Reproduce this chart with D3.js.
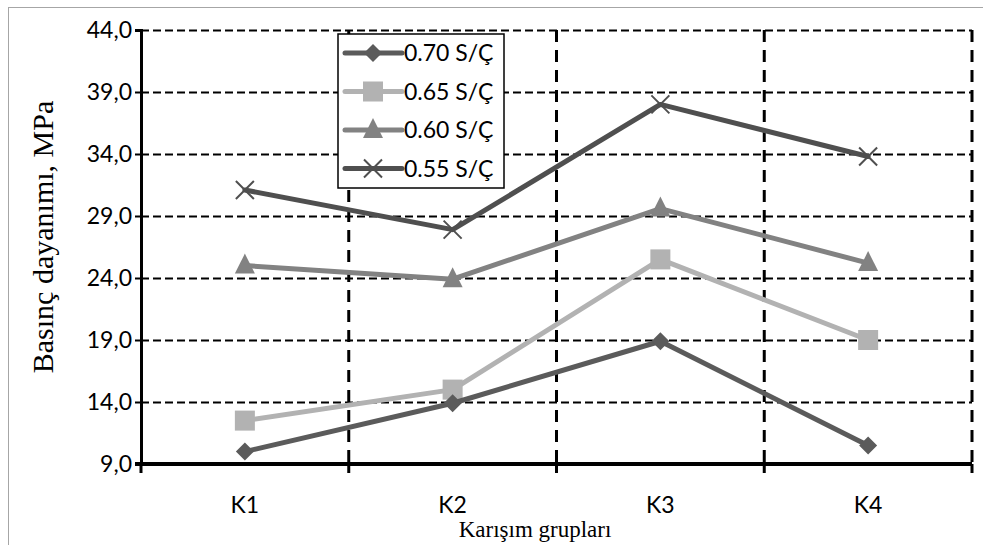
<!DOCTYPE html>
<html>
<head>
<meta charset="utf-8">
<script src="https://cdn.jsdelivr.net/npm/d3@7"></script>
<style>
  html, body { margin: 0; padding: 0; background: #fff; }
  svg { display: block; }
</style>
</head>
<body>
<svg id="chart" width="983" height="545"></svg>
<script>
// Mix groups on the x axis
const categories = ["K1", "K2", "K3", "K4"];
// Water/cement ratio series (legend labels)
const seriesNames = ["0.70 S/Ç", "0.65 S/Ç", "0.60 S/Ç", "0.55 S/Ç"];
// Compressive strength, MPa, per mix group
const s070 = [10.0, 13.9, 18.9, 10.5];
const s065 = [12.5, 15.0, 25.5, 19.0];
const s060 = [25.0, 23.9, 29.6, 25.2];
const s055 = [31.1, 27.9, 38.0, 33.8];
// Y axis ticks
const yTicks = [9, 14, 19, 24, 29, 34, 39, 44];

const seriesValues = [s070, s065, s060, s055];
const seriesColors = ["#5b5b5b", "#b2b2b2", "#828282", "#4f4f4f"];
const seriesMarkers = ["diamond", "square", "triangle", "cross"];

const svg = d3.select("#chart");
const L = 141, R = 972, T = 30, B = 464;

// outer chart-area frame
svg.append("rect")
  .attr("x", 8.5).attr("y", 7.5).attr("width", 1000).attr("height", 600)
  .attr("fill", "none").attr("stroke", "#a6a6a6").attr("stroke-width", 1);

const x = d3.scaleBand().domain(categories).range([L, R]).padding(0);
const y = d3.scaleLinear().domain([9, 44]).range([B, T]);
const cx = c => x(c) + x.bandwidth() / 2;

const sansFont = "Lato, 'Open Sans', sans-serif";
const serifFont = "'Liberation Serif', 'DejaVu Serif', serif";

// horizontal dashed gridlines
svg.append("g").selectAll("line")
  .data(yTicks.filter(t => t > 9))
  .join("line")
  .attr("x1", L).attr("x2", R)
  .attr("y1", d => Math.round(y(d)) + 0.5).attr("y2", d => Math.round(y(d)) + 0.5)
  .attr("stroke", "#000").attr("stroke-width", 2)
  .attr("stroke-dasharray", "8,4");

// vertical dashed gridlines at category boundaries
const bounds = categories.map(c => x(c) + x.bandwidth());
svg.append("g").selectAll("line")
  .data(bounds)
  .join("line")
  .attr("x1", d => d).attr("x2", d => d)
  .attr("y1", T).attr("y2", B)
  .attr("stroke", "#000").attr("stroke-width", 3)
  .attr("stroke-dasharray", "12,8");

// y axis
const yAxis = svg.append("g")
  .attr("transform", `translate(${L},0)`)
  .call(d3.axisLeft(y).tickValues(yTicks).tickSize(6).tickPadding(3)
    .tickFormat(d => d3.format(".1f")(d).replace(".", ",")));
yAxis.select(".domain").attr("stroke", "#000").attr("stroke-width", 3);
yAxis.selectAll(".tick line").attr("stroke", "#000").attr("stroke-width", 2);
yAxis.selectAll("text").attr("font-family", sansFont).attr("font-size", 23).attr("fill", "#000");

// x axis: line, boundary ticks, centred labels
svg.append("line")
  .attr("x1", L - 6).attr("x2", R)
  .attr("y1", B).attr("y2", B)
  .attr("stroke", "#000").attr("stroke-width", 4);
svg.append("g").selectAll("line")
  .data([L].concat(bounds))
  .join("line")
  .attr("x1", d => d).attr("x2", d => d)
  .attr("y1", B).attr("y2", B + 9)
  .attr("stroke", "#000").attr("stroke-width", 3);
const xAxis = svg.append("g")
  .attr("transform", `translate(0,${B})`)
  .call(d3.axisBottom(x).tickSize(0).tickPadding(33));
xAxis.select(".domain").remove();
xAxis.selectAll("text").attr("font-family", sansFont).attr("font-size", 23).attr("fill", "#000");

// axis titles
svg.append("text")
  .attr("transform", `translate(53,${(T + B) / 2 - 10}) rotate(-90)`)
  .attr("text-anchor", "middle")
  .attr("font-family", serifFont).attr("font-size", 30).attr("fill", "#000")
  .text("Basınç dayanımı, MPa");
svg.append("text")
  .attr("x", 535).attr("y", 537)
  .attr("text-anchor", "middle")
  .attr("font-family", serifFont).attr("font-size", 23).attr("fill", "#000")
  .text("Karışım grupları");

// marker drawing
function drawMarker(g, type, color) {
  if (type === "diamond") {
    g.append("path").attr("d", "M0,-9L9,0L0,9L-9,0Z").attr("fill", color);
  } else if (type === "square") {
    g.append("rect").attr("x", -10).attr("y", -10).attr("width", 20).attr("height", 20)
      .attr("fill", color);
  } else if (type === "triangle") {
    g.append("path").attr("d", "M0,-12L10,8L-10,8Z").attr("fill", color);
  } else {
    g.append("path").attr("d", "M-9,-9L9,9M-9,9L9,-9")
      .attr("stroke", color).attr("stroke-width", 2).attr("fill", "none");
  }
}

const line = d3.line().x(d => cx(d.c)).y(d => y(d.v));

// draw series, last legend entry first
for (let i = seriesValues.length - 1; i >= 0; i--) {
  const pts = categories.map((c, j) => ({ c, v: seriesValues[i][j] }));
  const g = svg.append("g");
  g.append("path").datum(pts)
    .attr("d", line)
    .attr("fill", "none").attr("stroke", seriesColors[i])
    .attr("stroke-width", 5).attr("stroke-linejoin", "round").attr("stroke-linecap", "round");
  pts.forEach(p => {
    const m = g.append("g").attr("transform", `translate(${cx(p.c)},${y(p.v)})`);
    drawMarker(m, seriesMarkers[i], seriesColors[i]);
  });
}

// legend
const leg = svg.append("g");
leg.append("rect")
  .attr("x", 338).attr("y", 34).attr("width", 166).attr("height", 154)
  .attr("fill", "#fff").attr("stroke", "#000").attr("stroke-width", 1.5);
seriesNames.forEach((name, i) => {
  const yy = 53 + i * 38.5;
  leg.append("line")
    .attr("x1", 345).attr("x2", 402).attr("y1", yy).attr("y2", yy)
    .attr("stroke", seriesColors[i]).attr("stroke-width", 5).attr("stroke-linecap", "round");
  const m = leg.append("g").attr("transform", `translate(373,${yy})`);
  drawMarker(m, seriesMarkers[i], seriesColors[i]);
  leg.append("text")
    .attr("x", 404).attr("y", yy).attr("dy", "0.35em")
    .attr("font-family", sansFont).attr("font-size", 23).attr("fill", "#000")
    .text(name);
});
</script>
</body>
</html>
